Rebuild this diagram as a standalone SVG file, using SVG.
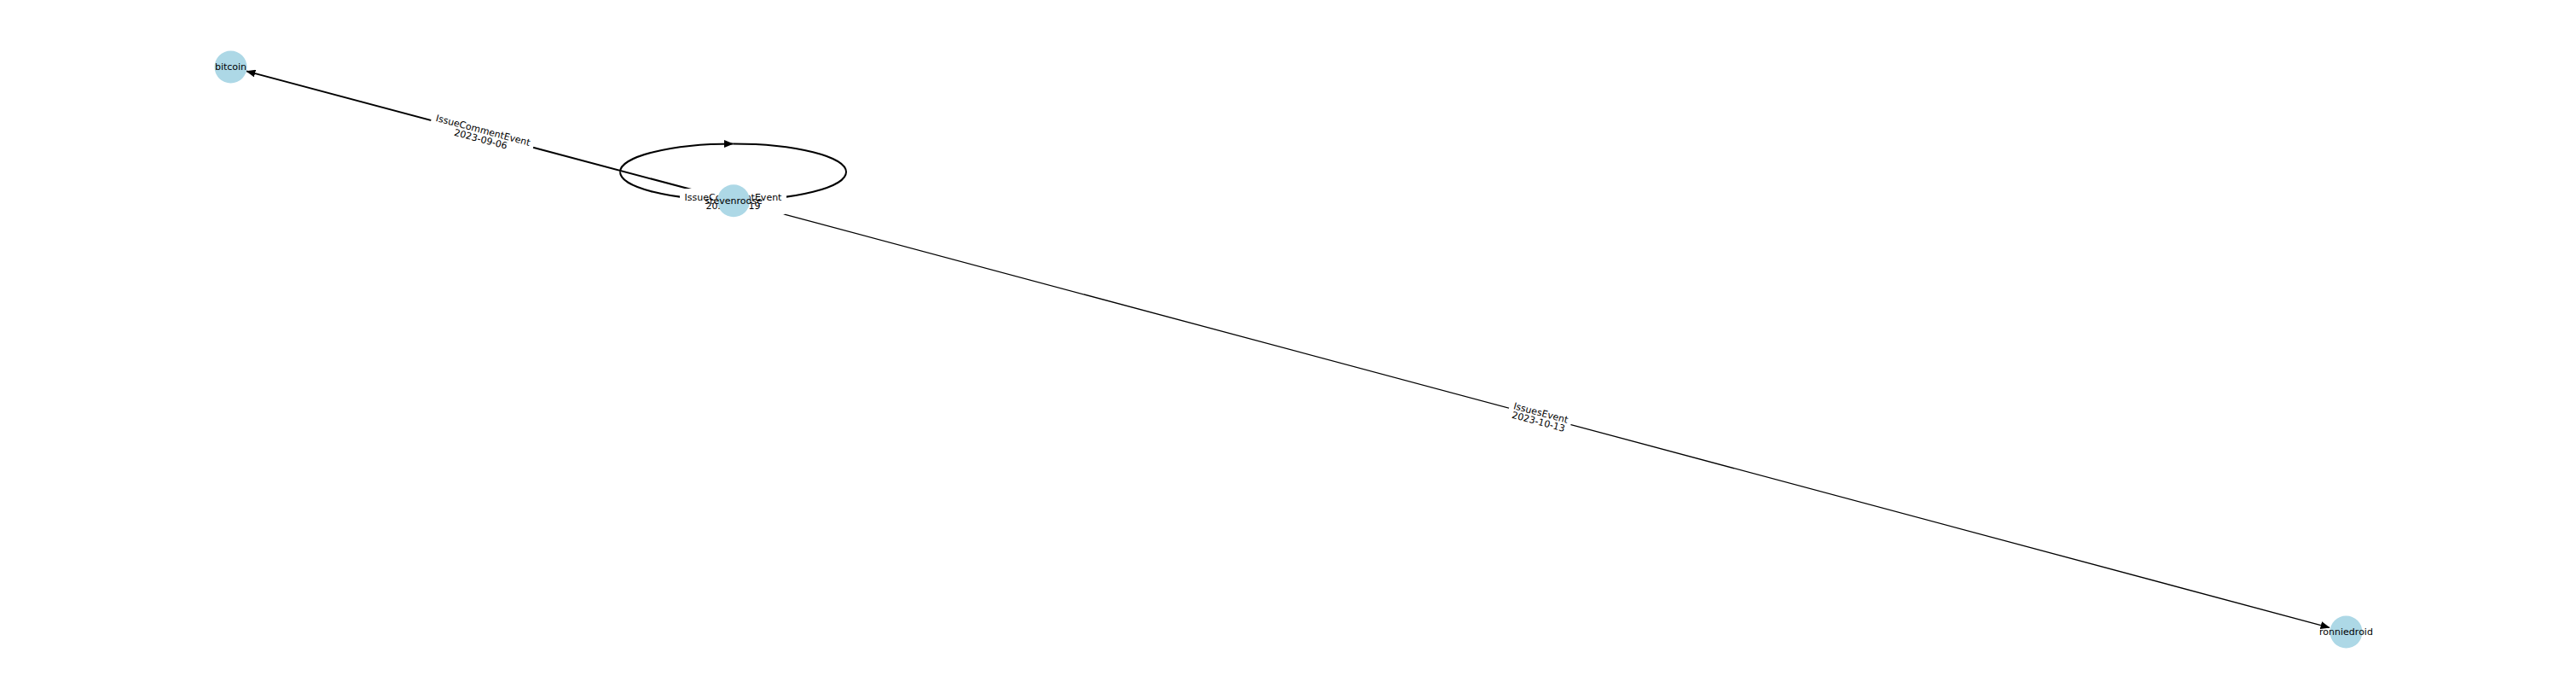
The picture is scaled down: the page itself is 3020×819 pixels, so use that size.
<svg xmlns="http://www.w3.org/2000/svg" width="3020" height="819" viewBox="0 0 3020 819">
  <style>
    .edge { fill: none; stroke: #000; stroke-linecap: butt; }
    .thick { stroke-width: 2; }
    .thin { stroke-width: 1.3; }
    .node circle { fill: #add8e6; stroke: none; }
    .lbl { font-family: "DejaVu Sans", "Liberation Sans", sans-serif; font-size: 11px; fill: #000; text-anchor: middle; }
    .box { fill: #fff; stroke: none; }
  </style>
  <defs>
    <marker id="arrow" markerUnits="userSpaceOnUse" markerWidth="11" markerHeight="9" refX="10.5" refY="4.5" orient="auto">
      <path d="M0,0 L11,4.5 L0,9 z" fill="#000"/>
    </marker>
  </defs>
  <rect x="0" y="0" width="3020" height="819" fill="#fff"/>
  <g id="connectors">
    <line class="edge thick" x1="841.6" y1="230.3" x2="288.9" y2="83.4" marker-end="url(#arrow)"/>
    <line class="edge thin" x1="878.4" y1="240.1" x2="2731.1" y2="735.3" marker-end="url(#arrow)"/>
    <path class="edge thick" d="M 727,201.5 A 132.5 33 0 0 1 859.5,168.5" marker-end="url(#arrow)"/>
    <path class="edge thick" d="M 859.5,168.5 A 132.5 33 0 0 1 992,201.5 A 132.5 33 0 0 1 727,201.5"/>
  </g>
  <g id="edge-labels">
    <g id="label-bitcoin" transform="translate(565.25,156.85) rotate(14.88)">
      <rect class="box" x="-62" y="-14" width="124" height="31" rx="5"/>
      <text class="lbl" x="0" y="-0.5">IssueCommentEvent</text>
      <text class="lbl" x="0" y="10.2">2023-09-06</text>
    </g>
    <g id="label-ronniedroid" transform="translate(1805.25,487.85) rotate(14.96)">
      <rect class="box" x="-37.5" y="-14" width="75" height="31" rx="5"/>
      <text class="lbl" x="0" y="-0.5">IssuesEvent</text>
      <text class="lbl" x="0" y="10.2">2023-10-13</text>
    </g>
    <g id="label-self" transform="translate(859.5,235)">
      <rect class="box" x="-62.5" y="-14" width="125" height="31" rx="5"/>
      <text class="lbl" x="0" y="-0.5">IssueCommentEvent</text>
      <text class="lbl" x="0" y="10.2">2023-09-19</text>
    </g>
  </g>
  <g id="node-bitcoin" class="node">
    <circle cx="270.5" cy="78.5" r="19"/>
    <text class="lbl" x="270.5" y="78.5" dominant-baseline="central">bitcoin</text>
  </g>
  <g id="node-stevenroose" class="node">
    <circle cx="860" cy="235.2" r="19"/>
    <text class="lbl" x="860" y="235.2" dominant-baseline="central">stevenroose</text>
  </g>
  <g id="node-ronniedroid" class="node">
    <circle cx="2750.5" cy="740.5" r="19"/>
    <text class="lbl" x="2750.5" y="740.5" dominant-baseline="central">ronniedroid</text>
  </g>
</svg>
